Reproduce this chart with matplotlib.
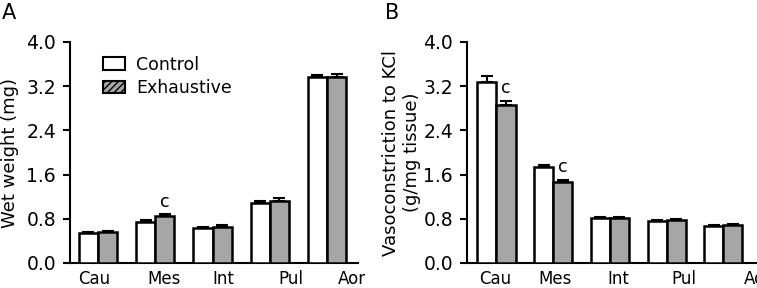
import matplotlib
matplotlib.use("Agg")
import matplotlib.pyplot as plt
import numpy as np
from matplotlib.patches import Patch

categories = ["Cau", "Mes", "Int", "Pul", "Aor"]
series_names = ["Control", "Exhaustive"]

wet_control = [0.54, 0.75, 0.63, 1.08, 3.36]
wet_control_err = [0.02, 0.02, 0.02, 0.04, 0.05]
wet_exh = [0.555, 0.85, 0.66, 1.12, 3.37]
wet_exh_err = [0.02, 0.03, 0.02, 0.05, 0.05]

vaso_control = [3.28, 1.73, 0.82, 0.76, 0.675]
vaso_control_err = [0.10, 0.04, 0.01, 0.02, 0.01]
vaso_exh = [2.86, 1.46, 0.82, 0.77, 0.69]
vaso_exh_err = [0.08, 0.05, 0.02, 0.03, 0.02]

wet_sig = [None, "c", None, None, None]
vaso_sig = ["c", "c", None, None, None]

yticks = [0.0, 0.8, 1.6, 2.4, 3.2, 4.0]
ytick_labels = ["0.0", "0.8", "1.6", "2.4", "3.2", "4.0"]

# label placement (the category labels sit slightly off the bar groups)
label_pos_A = [-0.07, 1.15, 2.18, 3.37, 4.44]
label_pos_B = [-0.02, 1.03, 2.14, 3.31, 4.61]

plt.rcParams['font.family'] = ['DejaVu Sans']
W, H = 757, 288
fig = plt.figure(figsize=(W / 100, H / 100), dpi=100)

gray = "#a6a6a6"
bw = 0.335


def panel(ax, ctrl, cerr, exh, eerr, sig, ylabel, label_pos, labelpad):
    x = np.arange(len(categories))
    ax.bar(x - bw / 2, ctrl, bw, color="white", edgecolor="black", linewidth=1.8, zorder=3)
    ax.bar(x + bw / 2, exh, bw, color=gray, edgecolor="black", linewidth=1.8, zorder=3)
    ax.errorbar(x - bw / 2, ctrl, yerr=[np.zeros(len(ctrl)), cerr], fmt="none",
                ecolor="black", elinewidth=1.5, capsize=4, capthick=1.5, zorder=2)
    ax.errorbar(x + bw / 2, exh, yerr=[np.zeros(len(exh)), eerr], fmt="none",
                ecolor="black", elinewidth=1.5, capsize=4, capthick=1.5, zorder=2)
    for i, s in enumerate(sig):
        if s:
            ax.text(x[i] + bw / 2, exh[i] + eerr[i] + 0.07, s, ha="center", va="bottom",
                    fontsize=12.5)
    ax.set_ylim(0, 4.0)
    ax.set_yticks(yticks)
    ax.set_yticklabels(ytick_labels, fontsize=13.5)
    ax.set_xticks(label_pos)
    ax.set_xticklabels(categories, fontsize=12)
    ax.tick_params(axis="x", length=0, pad=5)
    ax.tick_params(axis="y", length=5, width=1.5, pad=5)
    for sp in ["top", "right"]:
        ax.spines[sp].set_visible(False)
    for sp in ["left", "bottom"]:
        ax.spines[sp].set_linewidth(1.5)
    ax.set_ylabel(ylabel, fontsize=13, labelpad=labelpad, linespacing=1.15)


axA = fig.add_axes([70 / W, 25 / H, 288 / W, 221 / H])
axA.set_xlim(-0.49, 4.54)
panel(axA, wet_control, wet_control_err, wet_exh, wet_exh_err, wet_sig, "Wet weight (mg)",
      label_pos_A, 5)
handles = [Patch(facecolor="white", edgecolor="black", linewidth=1.5),
           Patch(facecolor=gray, edgecolor="black", linewidth=1.5, hatch="/////")]
axA.legend(handles, series_names, loc="upper left", bbox_to_anchor=(0.09, 0.97),
           frameon=False, fontsize=12.5, handlelength=1.3, handleheight=0.7,
           handletextpad=0.6, labelspacing=0.3, borderaxespad=0)

axB = fig.add_axes([467 / W, 25 / H, 291 / W, 221 / H])
axB.set_xlim(-0.52, 4.54)
panel(axB, vaso_control, vaso_control_err, vaso_exh, vaso_exh_err, vaso_sig,
      "Vasoconstriction to KCl\n(g/mg tissue)", label_pos_B, 2)

fig.text(2 / W, 1 - 13 / H, "A", fontsize=15, va="center", ha="left")
fig.text(385 / W, 1 - 13 / H, "B", fontsize=15, va="center", ha="left")

fig.savefig("out.png", dpi=100)
